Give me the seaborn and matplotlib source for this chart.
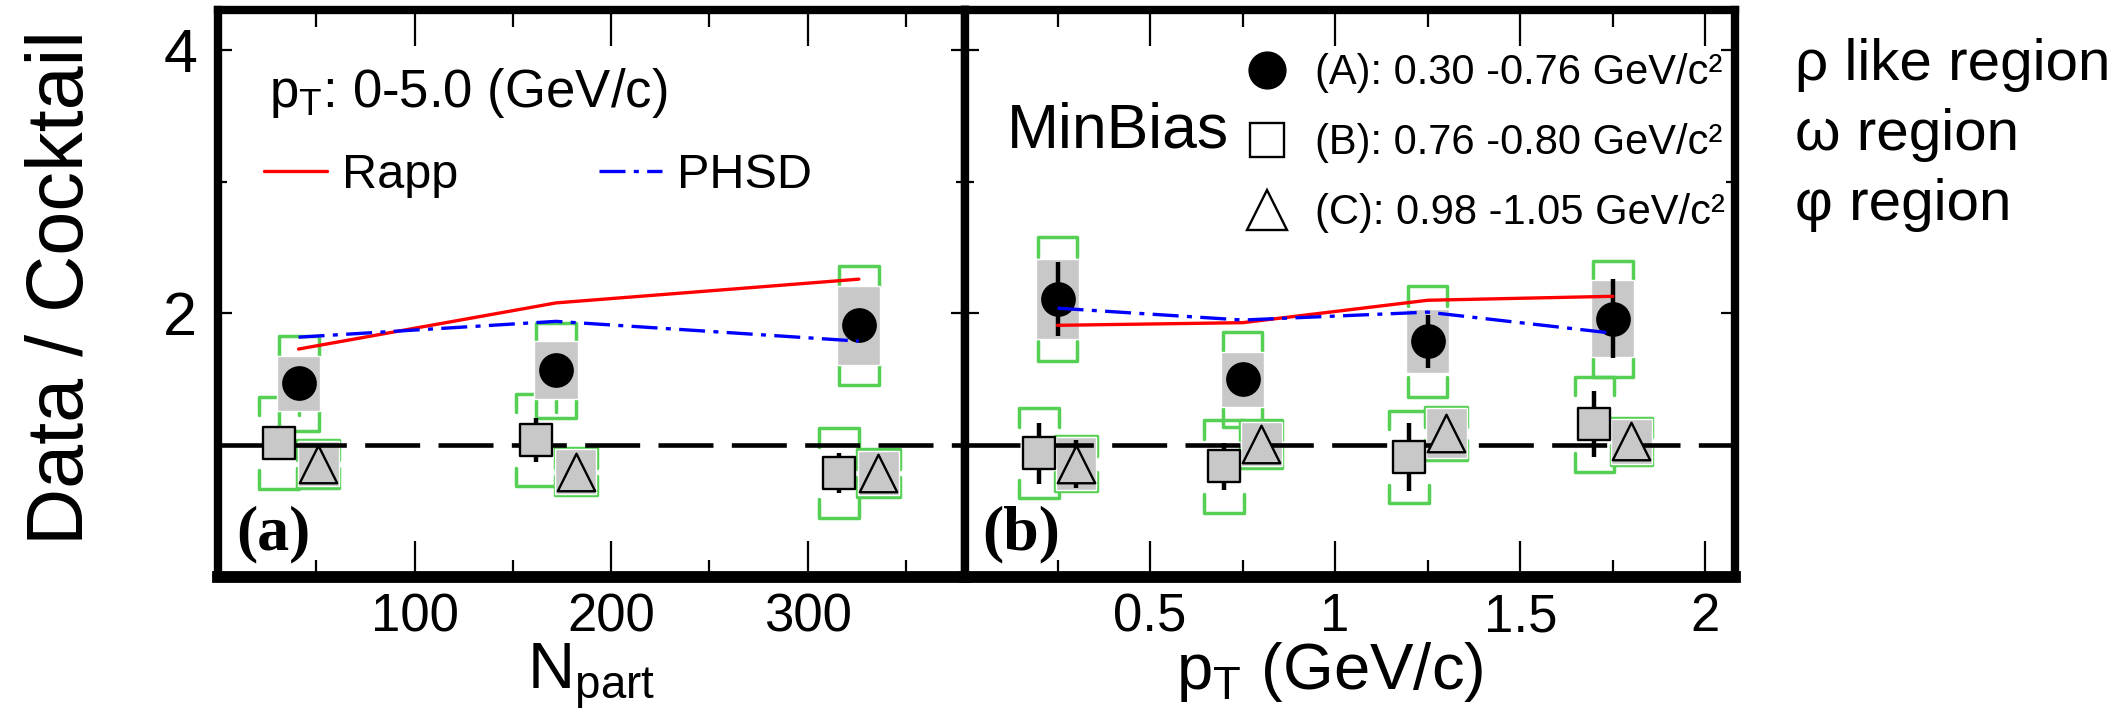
import numpy as np
import matplotlib.pyplot as plt
from matplotlib.lines import Line2D
from matplotlib.ticker import MultipleLocator, FixedLocator, FuncFormatter
import seaborn as sns

# ---- panel (a): ratio vs Npart, pT 0-5 GeV/c ----
npart = [41, 172, 326]
rho_a = [1.47, 1.57, 1.91]
rho_a_stat = [0.03, 0.06, 0.05]
rho_a_sys = [0.21, 0.22, 0.30]
rho_a_ckt = [0.36, 0.36, 0.45]
omega_a = [1.02, 1.04, 0.79]
omega_a_stat = [0.10, 0.17, 0.15]
omega_a_ckt = [0.35, 0.35, 0.34]
phi_a = [0.86, 0.80, 0.79]
phi_a_stat = [0.03, 0.03, 0.03]
phi_a_sys = [0.17, 0.17, 0.17]
rapp_a = [1.73, 2.08, 2.26]
phsd_a = [1.82, 1.94, 1.79]

# ---- panel (b): ratio vs pT, MinBias ----
pt = [0.25, 0.75, 1.25, 1.75]
rho_b = [2.11, 1.50, 1.79, 1.96]
rho_b_stat = [0.28, 0.04, 0.20, 0.30]
rho_b_sys = [0.30, 0.21, 0.24, 0.29]
rho_b_ckt = [0.47, 0.36, 0.42, 0.44]
omega_b = [0.94, 0.84, 0.91, 1.16]
omega_b_stat = [0.23, 0.18, 0.26, 0.25]
omega_b_ckt = [0.34, 0.35, 0.35, 0.36]
phi_b = [0.86, 1.01, 1.09, 1.03]
phi_b_stat = [0.18, 0.05, 0.05, 0.05]
phi_b_sys = [0.20, 0.17, 0.19, 0.17]
rapp_b = [1.91, 1.93, 2.10, 2.13]
phsd_b = [2.04, 1.95, 2.01, 1.85]

legend_labels = ["(A): 0.30 -0.76 GeV/c\u00b2", "(B): 0.76 -0.80 GeV/c\u00b2",
                 "(C): 0.98 -1.05 GeV/c\u00b2"]
region_labels = ["\u03c1 like region", "\u03c9 region", "\u03c6 region"]

GREEN = "#55d055"
GREY = "#c8c8c8"
PHSD_LS = (0, (7.8, 2.5, 1.5, 2.5))

sns.set_style("ticks")
plt.rcParams['font.family'] = ['Liberation Sans', 'DejaVu Sans']
plt.rcParams['mathtext.default'] = 'regular'
for key in ('text.color', 'axes.labelcolor', 'xtick.color', 'ytick.color', 'axes.edgecolor'):
    plt.rcParams[key] = 'black'


def brackets(ax, x, y, err, hw, leg):
    # green open brackets above and below each point
    for xi, yi, e in zip(x, y, err):
        hi, lo = yi + e, yi - e
        ax.plot([xi - hw, xi - hw, xi + hw, xi + hw], [hi - leg, hi, hi, hi - leg],
                color=GREEN, lw=2.5, zorder=2)
        ax.plot([xi - hw, xi - hw, xi + hw, xi + hw], [lo + leg, lo, lo, lo + leg],
                color=GREEN, lw=2.5, zorder=2)


def draw_panel(ax, x, dx, hw, rho, rho_stat, rho_sys, rho_ckt, om, om_stat, om_ckt,
               ph, ph_stat, ph_sys, rapp, phsd):
    x = np.asarray(x, float)
    xs, xt = x - dx, x + dx
    # circles (A)
    brackets(ax, x, rho, rho_ckt, 0.97 * hw, 0.15)
    ax.bar(x, 2 * np.asarray(rho_sys), bottom=np.asarray(rho) - rho_sys,
           width=2.1 * hw, color=GREY, zorder=3)
    ax.errorbar(x, rho, yerr=rho_stat, fmt='none', ecolor='k', elinewidth=3.2, zorder=5)
    sns.scatterplot(x=x, y=rho, ax=ax, marker='o', s=25 ** 2, color='k',
                    edgecolor='k', linewidth=0, zorder=6)
    # squares (B)
    brackets(ax, xs, om, om_ckt, 0.97 * hw, 0.14)
    ax.errorbar(xs, om, yerr=om_stat, fmt='none', ecolor='k', elinewidth=3.2, zorder=5)
    sns.scatterplot(x=xs, y=om, ax=ax, marker='s', s=23 ** 2, color=GREY,
                    edgecolor='k', linewidth=1.7, zorder=6)
    # triangles (C)
    ph_ckt = np.asarray(ph_sys) + 0.01
    brackets(ax, xt, ph, ph_ckt, 1.02 * hw, 0.15)
    ax.bar(xt, 2 * np.asarray(ph_sys), bottom=np.asarray(ph) - ph_sys,
           width=2.0 * hw, color=GREY, zorder=3)
    ax.errorbar(xt, ph, yerr=ph_stat, fmt='none', ecolor='k', elinewidth=3.2, zorder=5)
    sns.scatterplot(x=xt, y=ph, ax=ax, marker='^', s=27 ** 2, color=GREY,
                    edgecolor='k', linewidth=1.7, zorder=6)
    # models
    sns.lineplot(x=x, y=rapp, ax=ax, color='red', lw=2.4, zorder=7)
    sns.lineplot(x=x, y=phsd, ax=ax, color='blue', lw=2.4, linestyle=PHSD_LS, zorder=7)
    ax.axhline(1, color='k', lw=3.3, dashes=(12, 4), zorder=4.5)


fig = plt.figure(figsize=(21.12, 7.26), dpi=100)
ax1 = fig.add_axes([0.1032, 0.205, 0.3537, 0.781])
ax2 = fig.add_axes([0.4569, 0.205, 0.3646, 0.781])

draw_panel(ax1, npart, 10, 10.5, rho_a, rho_a_stat, rho_a_sys, rho_a_ckt,
           omega_a, omega_a_stat, omega_a_ckt, phi_a, phi_a_stat, phi_a_sys,
           rapp_a, phsd_a)
draw_panel(ax2, pt, 0.05, 0.055, rho_b, rho_b_stat, rho_b_sys, rho_b_ckt,
           omega_b, omega_b_stat, omega_b_ckt, phi_b, phi_b_stat, phi_b_sys,
           rapp_b, phsd_b)

ax1.set_xlim(0, 380)
ax2.set_xlim(0, 2.08)
for ax in (ax1, ax2):
    ax.set_ylim(0, 4.3)
    ax.yaxis.set_major_locator(FixedLocator([2, 4]))
    ax.yaxis.set_minor_locator(FixedLocator([1, 3]))
    ax.tick_params(which='both', direction='in', top=True, right=True, width=1.6)
    ax.tick_params(axis='x', which='major', length=26, labelsize=38, pad=11)
    ax.tick_params(axis='x', which='minor', length=12)
    ax.tick_params(axis='y', which='major', length=10, labelsize=44, pad=15)
    ax.tick_params(axis='y', which='minor', length=6.5)
    for side in ('top', 'left', 'right'):
        ax.spines[side].set_linewidth(6)
    ax.spines['bottom'].set_linewidth(8.5)
    ax.set_ylabel("")
    ax.set_xlabel("")

ax1.xaxis.set_major_locator(MultipleLocator(100))
ax1.xaxis.set_minor_locator(MultipleLocator(50))
ax2.xaxis.set_major_locator(MultipleLocator(0.5))
ax2.xaxis.set_minor_locator(MultipleLocator(0.25))
ax1.xaxis.set_major_formatter(FuncFormatter(lambda v, p: f"{v:g}" if v > 0 else ""))
ax2.xaxis.set_major_formatter(FuncFormatter(lambda v, p: f"{v:g}" if v > 0 else ""))
ax2.tick_params(axis='y', labelleft=False)

ax1.set_ylabel("Data / Cocktail", fontsize=57)
ax1.yaxis.set_label_coords(-0.158, 0.51)
ax1.set_xlabel("$N_{part}$", fontsize=47)
ax1.xaxis.set_label_coords(0.5, -0.115)
ax2.set_xlabel("$p_T$ (GeV/c)", fontsize=47)
ax2.xaxis.set_label_coords(0.474, -0.11)

# panel texts
ax1.text(0.068, 0.83, "$p_T$: 0-5.0 (GeV/c)", transform=ax1.transAxes,
         fontsize=38, va='baseline')
model_handles = [Line2D([], [], color='red', lw=2.4),
                 Line2D([], [], color='blue', lw=2.4, linestyle=PHSD_LS)]
ax1.legend(model_handles, ["Rapp", "PHSD"], loc='center left', bbox_to_anchor=(0.062, 0.709),
           ncol=2, frameon=False, fontsize=35, handlelength=1.3, handletextpad=0.3,
           columnspacing=2.9, borderpad=0, borderaxespad=0)
ax2.text(0.054, 0.758, "MinBias", transform=ax2.transAxes, fontsize=45, va='baseline')
ax1.text(0.025, 0.025, "(a)", transform=ax1.transAxes, fontsize=46, va='bottom',
         family='Liberation Serif', weight='bold')
ax2.text(0.022, 0.025, "(b)", transform=ax2.transAxes, fontsize=46, va='bottom',
         family='Liberation Serif', weight='bold')

marker_handles = [Line2D([], [], ls='', marker='o', ms=26.5, color='k'),
                  Line2D([], [], ls='', marker='s', ms=24, mfc='white', mec='k', mew=1.7),
                  Line2D([], [], ls='', marker='^', ms=29, mfc='white', mec='k', mew=1.7)]
ax2.legend(marker_handles, legend_labels, loc='upper left', bbox_to_anchor=(0.365, 0.924),
           frameon=False, fontsize=30, handlelength=1.0, handletextpad=0.65,
           labelspacing=0.72, borderpad=0, borderaxespad=0)

for lab, yb in zip(region_labels, [0.890, 0.793, 0.697]):
    fig.text(0.85, yb, lab, fontsize=42, va='baseline')

fig.savefig("out.png", dpi=100)
